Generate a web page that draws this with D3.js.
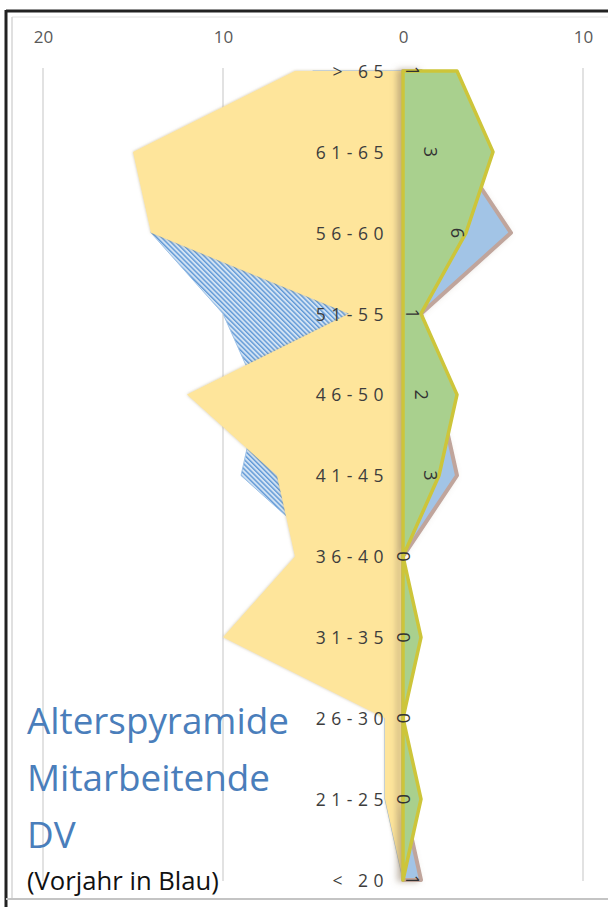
<!DOCTYPE html>
<html>
  <head>
    <meta charset="utf-8" />
    <title>Alterspyramide</title>
    <script src="https://d3js.org/d3.v7.min.js"></script>
    <style>
        body {margin: 0; background: #fff;}
        svg text {font-family: "Open Sans", "Noto Sans", sans-serif;}
    </style>
  </head>
  <body>

    <svg id="chart" width="608" height="907"></svg>

    <script>

        var categories = ["> 65", "61-65", "56-60", "51-55", "46-50", "41-45",
                          "36-40", "31-35", "26-30", "21-25", "< 20"];

        // links: aktuelles Jahr (gelb) und Vorjahr (blau schraffiert)
        var leftCurrent = [6, 15, 14, 3, 12, 7, 6, 10, 1, 1, 0];
        var leftPrev    = [5, 13, 14, 10, 8, 9, 4, 5, 1, 1, 0];

        // rechts: Vorjahr (blau, beschriftet) und aktuelles Jahr (gruen)
        var rightPrev    = [1, 3, 6, 1, 2, 3, 0, 0, 0, 0, 1];
        var rightCurrent = [3, 5, 3.5, 1, 3, 2, 0, 1, 0, 1, 0];

        var xTicks = [-20, -10, 0, 10];

        var titleLines = ["Alterspyramide", "Mitarbeitende", "DV"];
        var subTitle = "(Vorjahr in Blau)";

        var svg = d3.select("#chart");

        var x = d3.scaleLinear().domain([-20, 10]).range([43, 583]);
        var y = d3.scalePoint().domain(categories).range([71, 880]);

        var defs = svg.append("defs");

        var pat = defs.append("pattern")
                      .attr("id", "hatch")
                      .attr("patternUnits", "userSpaceOnUse")
                      .attr("width", 3.4)
                      .attr("height", 3.4)
                      .attr("patternTransform", "rotate(-45)");
            pat.append("rect").attr("width", 3.4).attr("height", 3.4).attr("fill", "#d2e3f4");
            pat.append("rect").attr("width", 1.4).attr("height", 3.4).attr("fill", "#5f98d6");

        var soft = defs.append("filter").attr("id", "soft")
                       .attr("x", "-10%").attr("y", "-5%").attr("width", "120%").attr("height", "110%");
            soft.append("feDropShadow").attr("dx", 0).attr("dy", 0)
                .attr("stdDeviation", 1.6).attr("flood-color", "#a08c60").attr("flood-opacity", 0.55);

        var shade = defs.append("filter").attr("id", "shade")
                        .attr("x", "-50%").attr("y", "-5%").attr("width", "200%").attr("height", "110%");
            shade.append("feDropShadow").attr("dx", -4).attr("dy", 0)
                 .attr("stdDeviation", 3).attr("flood-color", "#8a7860").attr("flood-opacity", 0.5);

        // Rahmen
        svg.append("line").attr("x1", 6).attr("x2", 608).attr("y1", 11).attr("y2", 11)
           .attr("stroke", "#222").attr("stroke-width", 3);
        svg.append("line").attr("x1", 6).attr("x2", 6).attr("y1", 10).attr("y2", 907)
           .attr("stroke", "#222").attr("stroke-width", 3);
        svg.append("line").attr("x1", 12).attr("x2", 608).attr("y1", 17).attr("y2", 17)
           .attr("stroke", "#e2e2e2").attr("stroke-width", 1);
        svg.append("line").attr("x1", 12).attr("x2", 12).attr("y1", 17).attr("y2", 898)
           .attr("stroke", "#d6d6d6").attr("stroke-width", 1.5);
        svg.append("line").attr("x1", 6).attr("x2", 608).attr("y1", 899).attr("y2", 899)
           .attr("stroke", "#c4c4c4").attr("stroke-width", 2);

        // Gitterlinien
        svg.append("g").selectAll("line")
           .data(xTicks.filter(function(t){ return t !== 0; }))
           .enter().append("line")
           .attr("x1", function(d){ return x(d); })
           .attr("x2", function(d){ return x(d); })
           .attr("y1", 68)
           .attr("y2", 881)
           .attr("stroke", "#d9d9d9")
           .attr("stroke-width", 1.5);

        // x-Achse oben
        var xAxis = svg.append("g")
                       .attr("transform", "translate(0,43)")
                       .call(d3.axisTop(x).tickValues(xTicks).tickSize(0).tickPadding(0)
                               .tickFormat(function(d){ return Math.abs(d); }));
            xAxis.select(".domain").remove();
            xAxis.selectAll("text")
                 .attr("fill", "#595959")
                 .style("font-size", "17px")
                 .style("font-family", "'Open Sans', sans-serif");

        function rows(values) {
            return categories.map(function(c, i){ return {cat: c, v: values[i]}; });
        }

        var leftArea = d3.area()
                         .y(function(d){ return y(d.cat); })
                         .x0(x(0))
                         .x1(function(d){ return x(-d.v); });

        var rightArea = d3.area()
                          .y(function(d){ return y(d.cat); })
                          .x0(x(0))
                          .x1(function(d){ return x(d.v); });

        svg.append("path")
           .datum(rows(leftPrev))
           .attr("d", leftArea)
           .attr("fill", "url(#hatch)")
           .attr("stroke", "#9cc0e6")
           .attr("stroke-width", 1);

        svg.append("path")
           .datum(rows(leftCurrent))
           .attr("d", leftArea)
           .attr("fill", "#fee59b")
           .attr("filter", "url(#soft)");

        svg.append("path")
           .datum(rows(rightPrev))
           .attr("d", rightArea)
           .attr("fill", "#a2c4e6")
           .attr("stroke", "#c0a59c")
           .attr("stroke-width", 4)
           .attr("stroke-linejoin", "round")
           .attr("filter", "url(#shade)");

        svg.append("path")
           .datum(rows(rightCurrent))
           .attr("d", rightArea)
           .attr("fill", "#a9d08e")
           .attr("stroke", "#cdc53a")
           .attr("stroke-width", 3.5)
           .attr("stroke-linejoin", "round");

        // Kategorien
        var yAxis = svg.append("g")
                       .attr("transform", "translate(" + x(0) + ",0)")
                       .call(d3.axisLeft(y).tickSize(0).tickPadding(14));
            yAxis.select(".domain").remove();
            yAxis.selectAll("text")
                 .attr("fill", "#3d3d3d")
                 .attr("dy", "0.36em")
                 .style("font-size", "17.5px")
                 .style("letter-spacing", "5.5px")
                 .style("font-family", "'Open Sans', sans-serif");

        // Datenbeschriftungen (Vorjahr rechts), um 90 Grad gedreht
        svg.append("g").selectAll("text")
           .data(rows(rightPrev))
           .enter().append("text")
           .attr("transform", function(d){
               return "translate(" + x(d.v / 2) + "," + y(d.cat) + ") rotate(90)";
           })
           .attr("text-anchor", "middle")
           .attr("dy", "0.36em")
           .attr("fill", "#333")
           .style("font-size", "18px")
           .text(function(d){ return d.v; });

        // Titel
        var title = svg.append("g");
        title.selectAll("text")
             .data(titleLines)
             .enter().append("text")
             .attr("x", 27)
             .attr("y", function(d, i){ return 734 + i * 57; })
             .attr("fill", "#4a7ebb")
             .style("font-size", "36px")
             .text(function(d){ return d; });

        var first = title.select("text").node();
        var fit = 36 * 262 / first.getComputedTextLength();
        title.selectAll("text").style("font-size", fit + "px");

        var sub = svg.append("text")
                     .attr("x", 27)
                     .attr("y", 890)
                     .attr("fill", "#111")
                     .style("font-size", "20px")
                     .text(subTitle);
        var subFit = 20 * 192 / sub.node().getComputedTextLength();
        sub.style("font-size", subFit + "px");

    </script>

  </body>
</html>
